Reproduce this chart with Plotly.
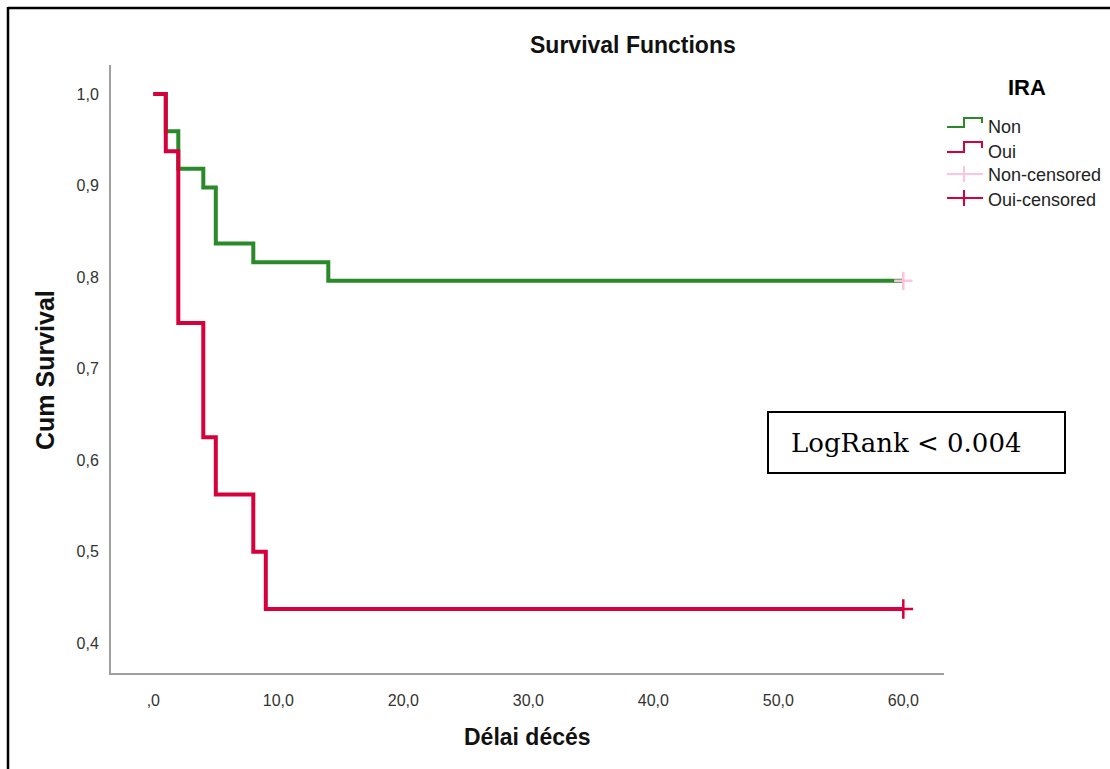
import plotly.graph_objects as go

# Kaplan-Meier estimates (step functions) by IRA group
time_non = [0, 1, 2, 4, 5, 8, 14, 60]
surv_non = [1.0, 47/49, 45/49, 44/49, 41/49, 40/49, 39/49, 39/49]
time_oui = [0, 1, 2, 4, 5, 8, 9, 60]
surv_oui = [1.0, 15/16, 12/16, 10/16, 9/16, 8/16, 7/16, 7/16]

# censored observations
cens_non_t = [60]
cens_non_s = [39/49]
cens_oui_t = [60]
cens_oui_s = [7/16]

x_ticks = [0, 10, 20, 30, 40, 50, 60]
x_ticktext = [",0", "10,0", "20,0", "30,0", "40,0", "50,0", "60,0"]
y_ticks = [0.4, 0.5, 0.6, 0.7, 0.8, 0.9, 1.0]
y_ticktext = ["0,4", "0,5", "0,6", "0,7", "0,8", "0,9", "1,0"]

legend_title = "IRA"
legend_labels = ["Non", "Oui", "Non-censored", "Oui-censored"]

GREEN = "#2a8a2a"
RED = "#d5003c"
PINK = "#ffc2df"
SANS = "Liberation Sans, Arial, sans-serif"

W, H = 1110, 769
L, R, T, B = 111, 944, 65, 673


def px(x):
    return (x - L) / (R - L)


def py(y):
    return (B - y) / (B - T)


fig = go.Figure()
fig.add_trace(go.Scatter(x=time_non, y=surv_non, mode="lines", line_shape="hv",
                         line=dict(color=GREEN, width=4), showlegend=False))
fig.add_trace(go.Scatter(x=time_oui, y=surv_oui, mode="lines", line_shape="hv",
                         line=dict(color=RED, width=4), showlegend=False))
fig.add_trace(go.Scatter(x=cens_non_t, y=cens_non_s, mode="markers",
                         marker=dict(symbol="cross-thin", size=13,
                                     line=dict(color=PINK, width=2.5)),
                         showlegend=False))
fig.add_trace(go.Scatter(x=cens_oui_t, y=cens_oui_s, mode="markers",
                         marker=dict(symbol="cross-thin", size=14,
                                     line=dict(color=RED, width=2.5)),
                         showlegend=False))

shapes = []
annotations = []

# outer frame (top and left edges)
shapes.append(dict(type="line", xref="paper", yref="paper",
                   x0=px(8), y0=py(8), x1=px(W + 5), y1=py(8),
                   line=dict(color="black", width=2.5)))
shapes.append(dict(type="line", xref="paper", yref="paper",
                   x0=px(8), y0=py(7), x1=px(8), y1=py(H + 5),
                   line=dict(color="black", width=2.5)))

# custom legend with step glyphs
step_rows = [(127, 118, GREEN), (152, 142, RED)]
for (ylow, yhigh, col) in step_rows:
    path = (f"M {px(947)},{py(ylow)} L {px(964)},{py(ylow)} L {px(964)},{py(yhigh)} "
            f"L {px(982)},{py(yhigh)} L {px(982)},{py(ylow - 4)}")
    shapes.append(dict(type="path", xref="paper", yref="paper", path=path,
                       line=dict(color=col, width=2)))
cross_rows = [(174, PINK), (198, RED)]
for (yc, col) in cross_rows:
    shapes.append(dict(type="line", xref="paper", yref="paper",
                       x0=px(947), y0=py(yc), x1=px(983), y1=py(yc),
                       line=dict(color=col, width=2)))
    shapes.append(dict(type="line", xref="paper", yref="paper",
                       x0=px(964), y0=py(yc - 8), x1=px(964), y1=py(yc + 8),
                       line=dict(color=col, width=2)))

annotations.append(dict(text=f"<b>{legend_title}</b>", xref="paper", yref="paper",
                        x=px(1027), y=py(88), showarrow=False,
                        xanchor="center", yanchor="middle",
                        font=dict(family=SANS, size=22, color="black")))
for lab, yc in zip(legend_labels, [127, 152, 175, 200]):
    annotations.append(dict(text=lab, xref="paper", yref="paper",
                            x=px(986), y=py(yc), showarrow=False,
                            xanchor="left", yanchor="middle",
                            font=dict(family=SANS, size=18, color="#222")))

# log-rank box
shapes.append(dict(type="rect", xref="paper", yref="paper",
                   x0=px(768), y0=py(473), x1=px(1065), y1=py(412),
                   line=dict(color="black", width=2), fillcolor="white"))
annotations.append(dict(text="LogRank < 0.004", xref="paper", yref="paper",
                        x=px(789), y=py(443), showarrow=False,
                        xanchor="left", yanchor="middle",
                        font=dict(family="DejaVu Serif, serif", size=26, color="black")))

# titles
annotations.append(dict(text="<b>Survival Functions</b>", xref="paper", yref="paper",
                        x=px(633), y=py(45), showarrow=False,
                        xanchor="center", yanchor="middle",
                        font=dict(family=SANS, size=23, color="#111")))
annotations.append(dict(text="<b>Délai décés</b>", xref="paper", yref="paper",
                        x=px(527), y=py(737), showarrow=False,
                        xanchor="center", yanchor="middle",
                        font=dict(family=SANS, size=23, color="#111")))
annotations.append(dict(text="<b>Cum Survival</b>", xref="paper", yref="paper",
                        x=px(45), y=py(370), showarrow=False, textangle=-90,
                        xanchor="center", yanchor="middle",
                        font=dict(family=SANS, size=25, color="#111")))

fig.update_layout(
    width=W, height=H,
    margin=dict(l=L, r=W - R, t=T, b=H - B),
    paper_bgcolor="white", plot_bgcolor="white",
    shapes=shapes, annotations=annotations,
    showlegend=False,
)
fig.update_xaxes(range=[(L - 153.3) / 12.5, (R - 153.3) / 12.5],
                 tickvals=x_ticks, ticktext=x_ticktext,
                 showgrid=False, zeroline=False, showline=True,
                 linecolor="#a0a0a0", linewidth=2, ticks="",
                 ticklabelstandoff=12,
                 tickfont=dict(family=SANS, size=16, color="#333"))
fig.update_yaxes(range=[1.0 - (B - 94) / 915.6, 1.0 + (94 - T) / 915.6],
                 tickvals=y_ticks, ticktext=y_ticktext,
                 showgrid=False, zeroline=False, showline=True,
                 linecolor="#a0a0a0", linewidth=2, ticks="",
                 ticklabelstandoff=7,
                 tickfont=dict(family=SANS, size=16, color="#333"))

fig.write_html("out.html")
